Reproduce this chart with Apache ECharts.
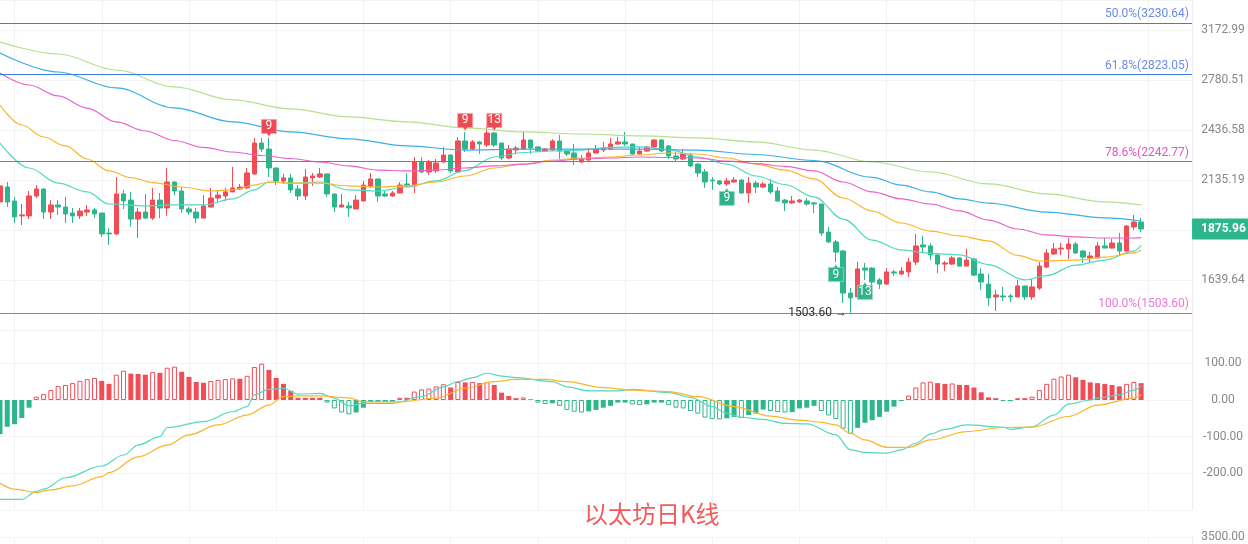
<!DOCTYPE html>
<html><head><meta charset="utf-8">
<script src="https://cdn.jsdelivr.net/npm/echarts@6.0.0/dist/echarts.min.js"></script>
<style>html,body{margin:0;padding:0;background:#fff}#c{width:1248px;height:544px}</style>
</head><body><div id="c"></div>
<script>
// ---------- DATA ----------
// daily candles: [open, close, low, high]
const candles = [
[2015,2102,1999,2147],[2096,2015,1988,2124],[2020,1937,1906,2042],[1942,1947,1896,2004],[1942,2047,1926,2074],
[2047,2085,2036,2107],[2085,1962,1926,2086],[1962,1999,1926,2025],[1999,1988,1947,2025],[1988,1952,1906,2042],
[1957,1942,1906,1983],[1942,1967,1926,1983],[1962,1973,1942,1999],[1973,1952,1931,1983],[1957,1852,1837,1958],
[1856,1852,1799,1881],[1852,2058,1847,2152],[2058,2020,1978,2080],[2025,1926,1886,2069],[1926,1962,1832,1983],
[1962,1931,1926,2058],[1931,2025,1921,2091],[2025,1983,1931,2063],[1983,2124,1942,2204],[2124,2074,2052,2125],
[2074,1978,1957,2096],[1978,1962,1947,1988],[1962,1931,1906,1983],[1931,1994,1930,2052],[1988,2036,1987,2091],
[2036,2052,2015,2074],[2047,2069,2020,2091],[2069,2091,2068,2210],[2085,2096,2080,2113],[2091,2175,2085,2204],
[2170,2354,2164,2386],[2354,2317,2299,2386],[2317,2204,2152,2386],[2204,2129,2107,2205],[2129,2147,2113,2170],
[2147,2080,2063,2170],[2085,2047,2025,2107],[2047,2152,2025,2198],[2147,2158,2102,2175],[2152,2170,2147,2204],
[2170,2058,2042,2171],[2058,1988,1962,2059],[1988,1999,1987,2058],[1994,1983,1937,2015],[1978,2025,1977,2052],
[2020,2107,2019,2130],[2102,2141,2091,2175],[2141,2047,2015,2142],[2058,2047,2042,2074],[2047,2063,2042,2074],
[2063,2107,2062,2124],[2113,2102,2096,2175],[2102,2239,2063,2269],[2239,2181,2175,2269],[2181,2239,2164,2251],
[2187,2233,2175,2257],[2239,2281,2233,2330],[2281,2187,2175,2282],[2181,2367,2175,2392],[2367,2317,2299,2424],
[2317,2361,2311,2373],[2361,2348,2287,2367],[2342,2417,2330,2462],[2417,2342,2330,2424],[2354,2263,2251,2355],
[2263,2317,2257,2342],[2311,2323,2287,2336],[2317,2373,2311,2424],[2373,2323,2287,2374],[2330,2305,2299,2331],
[2305,2317,2299,2323],[2311,2367,2305,2379],[2367,2305,2257,2405],[2305,2287,2275,2311],[2293,2257,2222,2348],
[2239,2257,2233,2281],[2251,2293,2239,2323],[2293,2317,2292,2342],[2311,2323,2299,2361],[2317,2348,2311,2386],
[2348,2361,2342,2392],[2361,2348,2336,2424],[2348,2287,2281,2349],[2287,2305,2281,2330],[2305,2330,2299,2336],
[2330,2373,2323,2379],[2373,2305,2299,2379],[2336,2275,2257,2342],[2275,2257,2245,2299],[2257,2287,2251,2317],
[2281,2216,2210,2293],[2227,2175,2152,2233],[2181,2124,2091,2198],[2135,2130,2080,2152],[2130,2113,2107,2135],
[2113,2130,2102,2147],[2124,2135,2118,2152],[2135,2063,2058,2141],[2063,2118,2010,2152],[2118,2096,2063,2130],
[2096,2113,2091,2124],[2113,2069,2058,2141],[2074,2020,2015,2096],[2025,2010,1967,2031],[2010,2020,2004,2047],
[2015,2025,2010,2031],[2020,2004,1994,2036],[2010,2004,1957,2015],[2004,1856,1842,2005],[1861,1813,1808,1886],
[1813,1765,1719,1822],[1770,1584,1543,1775],[1584,1564,1503.6,1605],[1568,1688,1567,1720],[1692,1683,1640,1715],
[1692,1631,1605,1697],[1640,1622,1601,1648],[1622,1675,1618,1692],[1675,1670,1657,1684],[1666,1679,1661,1697],
[1675,1719,1653,1738],[1719,1794,1706,1852],[1799,1789,1761,1842],[1794,1752,1728,1808],[1752,1710,1670,1761],
[1710,1715,1679,1724],[1710,1738,1706,1747],[1738,1701,1700,1742],[1701,1728,1700,1780],[1733,1661,1657,1738],
[1666,1631,1597,1692],[1622,1564,1531,1666],[1568,1576,1511,1597],[1572,1568,1551,1610],[1572,1568,1547,1580],
[1568,1614,1567,1640],[1614,1568,1555,1615],[1568,1610,1555,1644],[1605,1701,1597,1720],[1697,1761,1692,1780],
[1756,1780,1752,1808],[1780,1784,1752,1808],[1780,1803,1733,1832],[1803,1761,1756,1813],[1770,1742,1715,1775],
[1738,1747,1719,1766],[1738,1794,1737,1813],[1794,1784,1783,1832],[1784,1808,1783,1827],[1808,1770,1747,1857],
[1770,1891,1766,1896],[1886,1911,1871,1947],[1911,1875.96,1861,1931]
];
const TOTAL_SLOTS = 165;              // candles + empty room on the right
const categories = Array.from({length: TOTAL_SLOTS}, (_, i) => 'D' + (i + 1));

// moving averages: [candle index, price]
const maTeal = [[0,2354],[4,2204],[8,2118],[12,2069],[15,2004],[20,1994],[24,1999],[28,1999],[32,2031],[35,2080],[37,2124],[40,2118],[44,2124],[48,2080],[52,2074],[56,2096],[60,2130],[64,2189],[68,2269],[72,2296],[76,2305],[80,2311],[84,2327],[88,2330],[92,2314],[96,2269],[100,2227],[104,2158],[108,2110],[112,2042],[116,1926],[120,1822],[124,1775],[128,1759],[132,1752],[136,1708],[141,1640],[144,1659],[148,1705],[152,1728],[156,1770],[157,1797]];
const maOrange = [[0,2603],[3,2469],[6,2392],[9,2336],[12,2257],[15,2187],[18,2149],[21,2121],[25,2096],[29,2074],[32,2080],[35,2107],[37,2124],[40,2118],[44,2118],[48,2102],[52,2096],[56,2102],[60,2124],[64,2158],[68,2204],[72,2227],[76,2251],[80,2263],[84,2269],[88,2281],[92,2293],[96,2287],[100,2263],[104,2227],[108,2192],[112,2141],[116,2036],[120,1967],[124,1906],[128,1866],[132,1842],[136,1818],[140,1750],[143,1724],[148,1728],[152,1742],[156,1761],[157,1775]];
const maPink = [[0,2833],[4,2744],[8,2666],[12,2582],[16,2489],[20,2430],[24,2370],[28,2327],[32,2299],[36,2278],[40,2260],[44,2239],[48,2216],[52,2192],[56,2187],[60,2192],[64,2204],[68,2216],[72,2227],[76,2245],[80,2257],[84,2263],[88,2269],[92,2266],[96,2263],[100,2245],[104,2230],[108,2213],[112,2187],[116,2124],[120,2069],[124,2031],[128,2004],[132,1968],[136,1921],[140,1876],[144,1847],[148,1837],[152,1832],[156,1832],[157,1834]];
const maBlue = [[0,2986],[8,2840],[16,2723],[24,2583],[32,2489],[40,2424],[48,2380],[56,2336],[64,2311],[72,2317],[80,2317],[88,2317],[96,2311],[104,2284],[112,2248],[120,2150],[124,2107],[128,2069],[132,2031],[136,2009],[144,1962],[152,1932],[157,1916]];
const maLime = [[0,3074],[8,2978],[16,2855],[24,2730],[32,2638],[40,2576],[48,2522],[56,2489],[64,2450],[72,2424],[80,2411],[88,2399],[96,2386],[104,2361],[112,2311],[120,2239],[128,2181],[136,2113],[144,2058],[152,2015],[157,1999]];

// MACD histogram, one per candle
const macdHist = [-93,-73,-66,-49,-21,9,16,27,38,41,46,52,57,60,52,44,69,80,72,71,69,76,74,88,91,77,63,49,47,52,
55,57,59,58,66,90,99,82,60,44,25,6,6,6,6,-7,-23,-34,-39,-34,-21,-5,-5,-5,-5,6,6,23,29,31,
37,43,34,49,48,49,46,49,41,20,11,5,7,2,-7,-11,-9,-16,-27,-32,-34,-31,-27,-21,-16,-7,-7,-12,-14,-12,
-7,-7,-14,-21,-23,-30,-37,-48,-52,-53,-50,-46,-49,-41,-37,-26,-30,-33,-34,-33,-23,-21,-16,-30,-42,-52,-78,-92,-76,-62,
-55,-46,-32,-18,-3,12,34,48,50,46,44,45,41,41,34,21,7,5,-3,-3,5,5,9,27,44,58,64,69,62,55,
48,46,44,41,37,44,49,46];
const difLine = [[0,-271],[3,-271],[5,-249],[6,-243],[9,-212],[14,-180],[17,-150],[19,-123],[22,-100],[23,-75],[28,-59],[32,-32],[34,-18],[35,14],[37,29],[39,32],[41,16],[44,18],[46,5],[48,-16],[50,-9],[54,-9],[58,9],[61,36],[63,50],[65,61],[67,73],[69,65],[71,61],[76,50],[78,36],[81,25],[85,25],[87,29],[92,20],[95,7],[98,-18],[100,-36],[102,-47],[105,-53],[108,-64],[111,-65],[115,-95],[117,-136],[119,-143],[122,-145],[124,-136],[126,-118],[128,-93],[130,-80],[133,-68],[138,-74],[139,-80],[142,-73],[145,-41],[147,-11],[150,0],[151,5],[154,14],[156,27],[157,38]];
const deaLine = [[0,-227],[2,-243],[5,-252],[7,-245],[10,-234],[14,-209],[15,-198],[19,-155],[23,-123],[26,-95],[30,-68],[34,-41],[37,-14],[39,9],[41,11],[44,11],[48,6],[50,-5],[55,-5],[60,5],[64,32],[68,50],[71,56],[75,56],[78,50],[83,34],[87,27],[92,23],[96,9],[101,-18],[106,-44],[110,-55],[113,-61],[115,-68],[117,-91],[119,-109],[122,-129],[125,-129],[128,-109],[133,-86],[138,-75],[142,-74],[147,-45],[151,-14],[156,5],[157,14]];

// axis tick labels
const priceTickLabels = ['1639.64','1871.08','2135.19','2436.58','2780.51','3172.99'];
const macdTickValues = [-200,-100,0,100];
const volTickLabel = '3500.00';

// fibonacci levels
const fibNames = ['50.0%','61.8%','78.6%','100.0%'];
const fibValues = [3230.64, 2823.05, 2242.77, 1503.60];

// TD sequential marks: candle index, text, above(1)/below(-1)
const tdIndex = [37, 64, 68, 100, 115, 119];
const tdText = ['9','9','13','9','9','13'];
const tdSide = [1, 1, 1, -1, -1, -1];

const lastPrice = 1875.96;
const lowIndex = 117, lowPrice = 1503.60;
const titleText = '以太坊日K线';

// ---------- STYLE ----------
const RED = '#f04d57', GREEN = '#2db68b';
const C_TEAL = '#52d9be', C_ORANGE = '#fbb52d', C_PINK = '#eb62c8', C_BLUE = '#3bb0ea', C_LIME = '#b5e08e';
const GRID_C = '#f3f3f3';

// log price scale: one grid step = ratio between tick labels
const P0 = parseFloat(priceTickLabels[0]);
const LR = Math.log(parseFloat(priceTickLabels[5]) / P0) / 5;
const toU = p => Math.log(p / P0) / LR;

const vSplit = idx => idx >= 2 && (idx - 2) % 12 === 0;
const xAxisBase = g => ({
  gridIndex: g, type: 'category', data: categories, boundaryGap: false,
  axisLine: {show: false}, axisTick: {show: false}, axisLabel: {show: false},
  splitLine: {show: true, interval: vSplit, lineStyle: {color: GRID_C, width: 1}}
});

const histData = macdHist.map((v, i) => {
  const prev = i > 0 ? macdHist[i - 1] : v;
  const col = v >= 0 ? RED : GREEN;
  const hollow = i > 0 && (v >= 0 ? v > prev : v < prev);
  return {value: v, itemStyle: hollow ? {color: '#ffffff', borderColor: col, borderWidth: 1} : {color: col, borderColor: col, borderWidth: 0}};
});

const redPin = 'path://M0,0H15V14H9.5L7.5,17L5.5,14H0Z';
const greenPin = 'path://M0,3H5.5L7.5,0L9.5,3H15V17H0Z';
const tdPoints = tdIndex.map((ci, k) => {
  const up = tdSide[k] > 0;
  const c = candles[ci];
  return {
    coord: [ci, toU(up ? c[3] : c[2])],
    symbol: up ? redPin : greenPin,
    symbolSize: [15, 17],
    symbolKeepAspect: false,
    symbolOffset: [0, up ? -10 : 11],
    itemStyle: {color: up ? '#ee4a53' : '#2fb38a', borderColor: up ? '#f7a3a7' : '#93d9c1', borderWidth: 0.8},
    label: {show: true, formatter: tdText[k], color: '#fff', fontSize: 12, position: 'inside', offset: [0, up ? -1.5 : 1.5], fontFamily: 'Roboto'}
  };
});
tdPoints.push({
  coord: [lowIndex, toU(lowPrice)], symbol: 'circle', symbolSize: 1,
  itemStyle: {color: 'rgba(0,0,0,0)'},
  label: {show: true, position: 'left', distance: 3, formatter: lowPrice.toFixed(2) + ' →', color: '#333', fontSize: 12, fontFamily: 'Roboto'}
});
// current price tag on the right axis
tdPoints.push({
  coord: [TOTAL_SLOTS - 1, toU(lastPrice)], symbol: 'rect', symbolSize: [0.1, 0.1],
  itemStyle: {color: 'rgba(0,0,0,0)'},
  label: {show: true, position: 'right', distance: 0, formatter: lastPrice.toFixed(2), color: '#fff', backgroundColor: GREEN,
          fontSize: 12, fontWeight: 'bold', padding: [4, 4, 5, 9], fontFamily: 'Roboto'}
});

const fibLine = ['#3d7ee6', '#3d7ee6', '#de3fc0', '#de4fc8'];
const fibText = ['#6b8be6', '#6b8be6', '#e452c2', '#e879d6'];
const markLines = fibValues.map((v, k) => ({
  yAxis: toU(v),
  lineStyle: {color: fibLine[k], width: 1, type: 'solid'},
  label: {show: true, position: 'insideEndTop', distance: [3, 3], formatter: fibNames[k] + '(' + v.toFixed(2) + ')', color: fibText[k], fontSize: 12, fontFamily: 'Roboto'}
}));

const maSeries = (data, color) => ({
  type: 'line', xAxisIndex: 0, yAxisIndex: 0, data: data.map(d => [d[0], toU(d[1])]),
  showSymbol: false, smooth: 0.35, smoothMonotone: 'x', lineStyle: {color: color, width: 1.2}, itemStyle: {color: color}, z: 3, silent: true
});

const option = {
  animation: false,
  backgroundColor: '#ffffff',
  textStyle: {fontFamily: 'Roboto, sans-serif'},
  title: {text: titleText, left: 584, top: 502, padding: 0,
          textStyle: {color: '#f25a5b', fontSize: 24, fontWeight: 'normal', fontFamily: 'Noto Sans CJK SC'}},
  grid: [
    {left: 0, right: 56, top: 0, height: 330},
    {left: 0, right: 56, top: 330, height: 180},
    {left: 0, right: 56, top: 537, height: 60}
  ],
  xAxis: [xAxisBase(0), xAxisBase(1), xAxisBase(2)],
  yAxis: [
    {gridIndex: 0, type: 'value', position: 'right', min: -1, max: 5.6, interval: 1,
     axisLine: {show: true, lineStyle: {color: '#ededed'}}, axisTick: {show: false},
     axisLabel: {color: '#888', fontSize: 12, align: 'center', margin: 31, showMinLabel: false, showMaxLabel: false,
       formatter: v => { const k = Math.round(v); if (Math.abs(v - k) > 1e-6 || k === 1) return ''; return priceTickLabels[k] || ''; }},
     splitLine: {show: true, lineStyle: {color: GRID_C}}},
    {gridIndex: 1, type: 'value', position: 'right', min: -300, max: 190.9, interval: 100,
     axisLine: {show: true, lineStyle: {color: '#ededed'}}, axisTick: {show: false},
     axisLabel: {color: '#888', fontSize: 12, align: 'center', margin: 31, showMinLabel: false, showMaxLabel: false,
       formatter: v => { const k = Math.round(v); return macdTickValues.indexOf(k) >= 0 && Math.abs(v - k) < 1e-6 ? k.toFixed(2) : ''; }},
     splitLine: {show: true, lineStyle: {color: GRID_C}}},
    {gridIndex: 2, type: 'value', position: 'right', min: 0, max: 3500, interval: 3500,
     axisLine: {show: true, lineStyle: {color: '#ededed'}}, axisTick: {show: false},
     axisLabel: {color: '#888', fontSize: 12, align: 'center', margin: 31, showMinLabel: false,
       formatter: v => v > 0 ? volTickLabel : ''},
     splitLine: {show: true, lineStyle: {color: GRID_C}}}
  ],
  series: [
    {type: 'candlestick', xAxisIndex: 0, yAxisIndex: 0, barWidth: 5, clip: false,
     data: candles.map(c => c.map(toU)),
     itemStyle: {color: RED, color0: GREEN, borderColor: RED, borderColor0: GREEN, borderWidth: 1},
     markLine: {symbol: ['none', 'none'], silent: true, z: 10, data: markLines},
     markPoint: {silent: true, z: 12, data: tdPoints}},
    maSeries(maTeal, C_TEAL),
    maSeries(maOrange, C_ORANGE),
    maSeries(maPink, C_PINK),
    maSeries(maBlue, C_BLUE),
    maSeries(maLime, C_LIME),
    {type: 'bar', xAxisIndex: 1, yAxisIndex: 1, barWidth: 5, data: histData, silent: true},
    {type: 'line', xAxisIndex: 1, yAxisIndex: 1, data: difLine, showSymbol: false, smooth: 0.35, smoothMonotone: 'x',
     lineStyle: {color: C_TEAL, width: 1.2}, silent: true},
    {type: 'line', xAxisIndex: 1, yAxisIndex: 1, data: deaLine, showSymbol: false, smooth: 0.35, smoothMonotone: 'x',
     lineStyle: {color: C_ORANGE, width: 1.2}, silent: true},
    {type: 'bar', xAxisIndex: 2, yAxisIndex: 2, data: [], silent: true}
  ]
};
const chart = echarts.init(document.getElementById('c'));
chart.setOption(option);
</script>
</body></html>
